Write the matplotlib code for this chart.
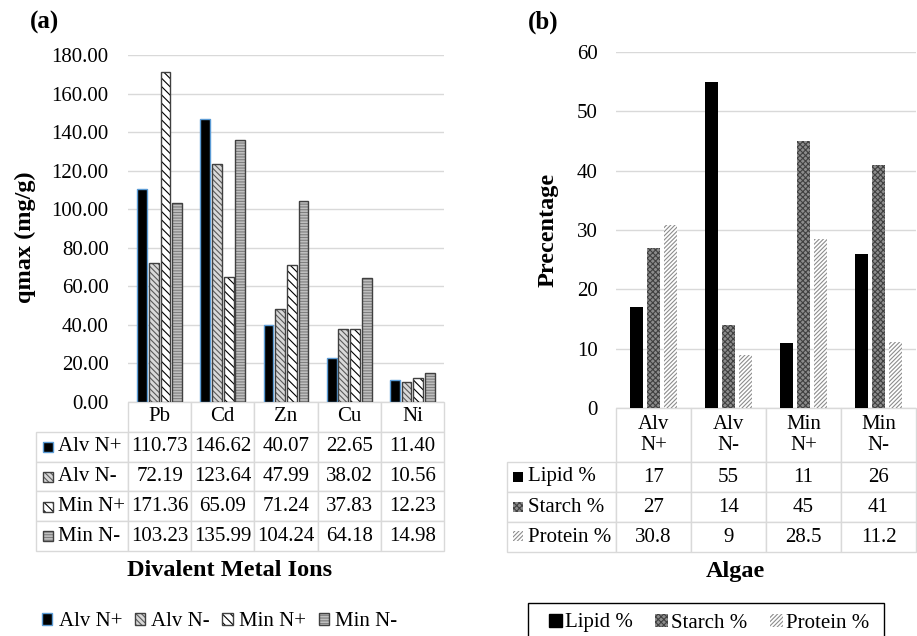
import matplotlib
matplotlib.use("Agg")
import matplotlib.pyplot as plt
import numpy as np
from matplotlib.patches import Rectangle, Patch
from matplotlib.table import Table

plt.rcParams["font.family"] = "serif"
plt.rcParams["font.serif"] = ["Liberation Serif", "Times New Roman", "DejaVu Serif"]
plt.rcParams["hatch.linewidth"] = 0.8

# -----------------------------------------
# Data
# -----------------------------------------
metals = ["Pb", "Cd", "Zn", "Cu", "Ni"]
series_a = ["Alv N+", "Alv N-", "Min N+", "Min N-"]
alv_np = [110.73, 146.62, 40.07, 22.65, 11.40]
alv_nm = [72.19, 123.64, 47.99, 38.02, 10.56]
min_np = [171.36, 65.09, 71.24, 37.83, 12.23]
min_nm = [103.23, 135.99, 104.24, 64.18, 14.98]
values_a = [alv_np, alv_nm, min_np, min_nm]

algae = ["Alv\nN+", "Alv\nN-", "Min\nN+", "Min\nN-"]
series_b = ["Lipid %", "Starch %", "Protein %"]
lipid = [17, 55, 11, 26]
starch = [27, 14, 45, 41]
protein = [30.8, 9, 28.5, 11.2]
values_b = [lipid, starch, protein]

W, H = 917, 636
fig = plt.figure(figsize=(W / 100, H / 100), dpi=100)


def fx(px):
    return px / W


def fy(py):
    return 1 - py / H


GRID = "#D9D9D9"
FS = 15

# styles: (face, hatch, hatch colour, outline colour)
styles_a = [
    ("black", None, None, "#5B9BD5"),
    ("#D9D9D9", "\\\\\\\\\\\\", "#595959", "#404040"),
    ("white", "\\\\\\\\", "black", "#404040"),
    ("#BFBFBF", "------", "#7F7F7F", "#404040"),
]
styles_b = [
    ("black", None, None, None),
    ("#8C8C8C", "xxxxxx", "#404040", None),
    ("white", "////////", "#8C8C8C", None),
]


def draw_bars(ax, x, vals, width, style, lw=1.0):
    face, hatch, hcol, ecol = style
    if hatch is None:
        ax.bar(x, vals, width, color=face,
               edgecolor=ecol if ecol else face, linewidth=lw if ecol else 0, zorder=3)
    else:
        ax.bar(x, vals, width, facecolor=face, edgecolor=hcol, hatch=hatch,
               linewidth=0, zorder=3)
        if ecol:
            ax.bar(x, vals, width, fill=False, edgecolor=ecol, linewidth=lw, zorder=4)


def legend_handle(style):
    face, hatch, hcol, ecol = style
    if hatch is None:
        return Patch(facecolor=face, edgecolor=ecol if ecol else face, linewidth=1)
    inner = Patch(facecolor=face, edgecolor=hcol, hatch=hatch, linewidth=0)
    if ecol:
        return (inner, Patch(fill=False, edgecolor=ecol, linewidth=1))
    return inner


def style_axes(ax):
    for s in ax.spines.values():
        s.set_visible(False)
    ax.set_xticks([])
    ax.tick_params(axis="y", length=0, labelsize=FS)
    ax.yaxis.grid(True, color=GRID, linewidth=1, zorder=0)
    ax.set_axisbelow(True)


def build_table(ax, height, cols, rows, cells, label_w, head_h, label_pad):
    # bbox covers the data cells only, row labels hang to the left
    tb = Table(ax, bbox=[0, -height, 1, height])
    n = len(cols)
    for j, c in enumerate(cols):
        tb.add_cell(0, j, width=1.0 / n, height=head_h, text=c, loc="center",
                    edgecolor=GRID)
    for i, (r, vals) in enumerate(zip(rows, cells), start=1):
        cell = tb.add_cell(i, -1, width=label_w, height=1.0, text=r, loc="left",
                           edgecolor=GRID)
        cell.PAD = label_pad
        for j, v in enumerate(vals):
            tb.add_cell(i, j, width=1.0 / n, height=1.0, text=v, loc="center",
                        edgecolor=GRID)
    tb.auto_set_font_size(False)
    tb.set_fontsize(FS)
    for c in tb.get_celld().values():
        c.set_linewidth(1)
    ax.add_table(tb)
    return tb


def add_key(xpx, ypx, style, outline=True):
    face, hatch, hcol, ecol = style
    xy = (fx(xpx), fy(ypx + 5))
    w, h = fx(10), fy(0) - fy(10)
    fig.add_artist(Rectangle(xy, w, h, facecolor=face,
                             edgecolor=hcol if hatch else face, hatch=hatch,
                             linewidth=0, transform=fig.transFigure))
    if outline and ecol:
        fig.add_artist(Rectangle(xy, w, h, facecolor="none", edgecolor=ecol,
                                 linewidth=1, transform=fig.transFigure))


# -----------------------------------------
# Panel (a)
# -----------------------------------------
ax1 = fig.add_axes([fx(128), fy(402), fx(444) - fx(128), fy(55) - fy(402)])
x = np.arange(len(metals))
pitch, bw = 0.185, 0.155
for k, vals in enumerate(values_a):
    draw_bars(ax1, x + (k - 1.5) * pitch, vals, bw, styles_a[k])
ax1.set_xlim(-0.5, len(metals) - 0.5)
ax1.set_ylim(0, 180)
ax1.set_yticks(np.arange(0, 181, 20))
ax1.set_yticklabels([f"{v:.2f}" for v in np.arange(0, 181, 20)])
style_axes(ax1)
ax1.tick_params(axis="y", pad=14)
ax1.set_ylabel("qmax (mg/g)", fontsize=17.5, fontweight="bold")
ax1.yaxis.set_label_coords(-0.29, 0.475)

cells_a = [[f"{v:.2f}" for v in vals] for vals in values_a]
build_table(ax1, (551 - 402) / 347, metals, series_a, cells_a,
            (128 - 36) / 316, 1.0, 0.24)

for i, st in enumerate(styles_a):
    add_key(43, 447 + 29.8 * i, st)

fig.text(fx(230), fy(571), "Divalent Metal Ions", fontsize=17.5, fontweight="bold",
         ha="center", va="center")
fig.text(fx(30), fy(22), "(a)", fontsize=18, fontweight="bold", ha="left", va="center")

fig.legend([legend_handle(s) for s in styles_a], series_a, loc="center left",
           bbox_to_anchor=(fx(42), fy(622)), ncol=4, frameon=False, fontsize=FS,
           handlelength=0.5, handleheight=0.5, handletextpad=0.3,
           columnspacing=0.6, borderpad=0, borderaxespad=0)

# -----------------------------------------
# Panel (b)
# -----------------------------------------
ax2 = fig.add_axes([fx(616), fy(408), fx(916) - fx(616), fy(52) - fy(408)])
x = np.arange(len(algae))
pitch, bw = 0.222, 0.175
for k, vals in enumerate(values_b):
    draw_bars(ax2, x + (k - 1) * pitch, vals, bw, styles_b[k])
ax2.set_xlim(-0.5, len(algae) - 0.5)
ax2.set_ylim(0, 60)
ax2.set_yticks(np.arange(0, 61, 10))
style_axes(ax2)
ax2.tick_params(axis="y", pad=13)
ax2.set_ylabel("Precentage", fontsize=17.5, fontweight="bold")
ax2.yaxis.set_label_coords(-0.19, 0.5)

cells_b = [[f"{v:g}" for v in vals] for vals in values_b]
build_table(ax2, (552 - 408) / 356, algae, series_b, cells_b,
            (616 - 507) / 300, 1.8, 0.19)

for i, st in enumerate(styles_b):
    add_key(513, 477 + 29.7 * i, st)

fig.text(fx(735), fy(571), "Algae", fontsize=17.5, fontweight="bold",
         ha="center", va="center")
fig.text(fx(528), fy(22), "(b)", fontsize=18, fontweight="bold", ha="left", va="center")

fig.legend([legend_handle(s) for s in styles_b], series_b, loc="center left",
           bbox_to_anchor=(fx(549), fy(623)), ncol=3, frameon=False, fontsize=FS,
           handlelength=0.6, handleheight=0.6, handletextpad=0.15,
           columnspacing=1.1, borderpad=0, borderaxespad=0)
# legend box (its lower edge runs off the bottom of the figure)
fig.add_artist(Rectangle((fx(528), fy(645)), fx(884) - fx(528), fy(603) - fy(645),
                         facecolor="none", edgecolor="black", linewidth=1,
                         transform=fig.transFigure))

fig.savefig("out.png", dpi=100)
